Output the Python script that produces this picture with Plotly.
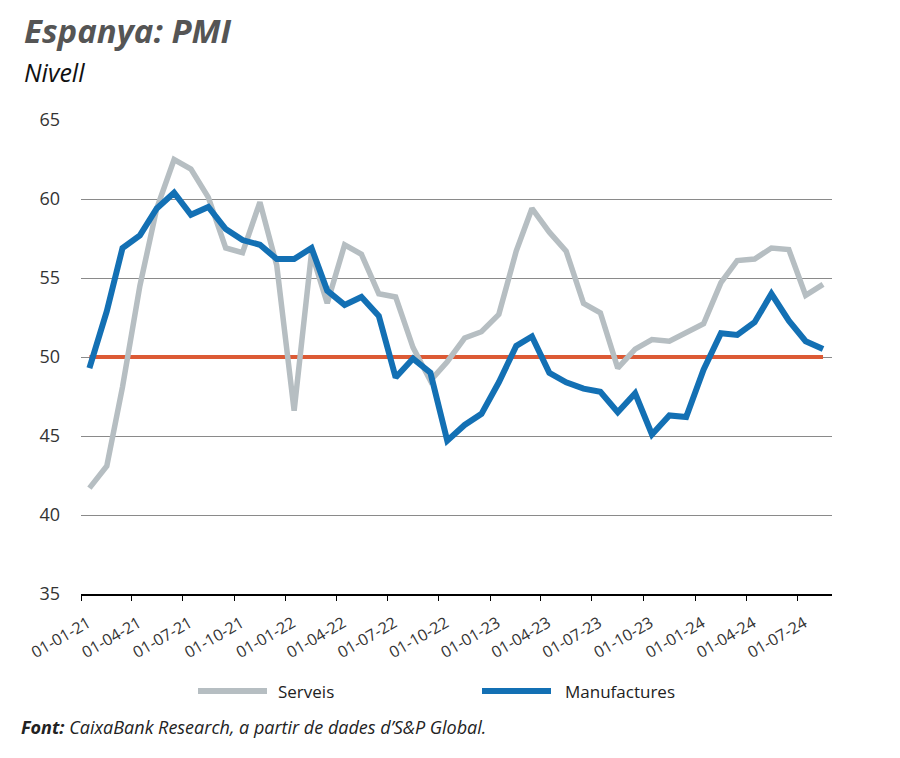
import pandas as pd
import plotly.graph_objects as go

# Monthly PMI, Jan 2021 - Aug 2024
start_month = "2021-01-01"
serveis = [41.7, 43.1, 48.1, 54.5, 59.4, 62.5, 61.9, 60.1, 56.9, 56.6, 59.8, 55.8,
           46.6, 56.6, 53.4, 57.1, 56.5, 54.0, 53.8, 50.6, 48.5, 49.7, 51.2, 51.6,
           52.7, 56.7, 59.4, 57.9, 56.7, 53.4, 52.8, 49.3, 50.5, 51.1, 51.0, 51.5,
           52.1, 54.7, 56.1, 56.2, 56.9, 56.8, 53.9, 54.6]
manufactures = [49.3, 52.9, 56.9, 57.7, 59.4, 60.4, 59.0, 59.5, 58.1, 57.4, 57.1, 56.2,
                56.2, 56.9, 54.2, 53.3, 53.8, 52.6, 48.7, 49.9, 49.0, 44.7, 45.7, 46.4,
                48.4, 50.7, 51.3, 49.0, 48.4, 48.0, 47.8, 46.5, 47.7, 45.1, 46.3, 46.2,
                49.2, 51.5, 51.4, 52.2, 54.0, 52.3, 51.0, 50.5]
threshold = 50
tick_dates = ["2021-01-01", "2021-04-01", "2021-07-01", "2021-10-01",
              "2022-01-01", "2022-04-01", "2022-07-01", "2022-10-01",
              "2023-01-01", "2023-04-01", "2023-07-01", "2023-10-01",
              "2024-01-01", "2024-04-01", "2024-07-01"]
tick_labels = ["01-01-21", "01-04-21", "01-07-21", "01-10-21",
               "01-01-22", "01-04-22", "01-07-22", "01-10-22",
               "01-01-23", "01-04-23", "01-07-23", "01-10-23",
               "01-01-24", "01-04-24", "01-07-24"]
series_names = ["Serveis", "Manufactures"]
series_colors = ["#b6bec2", "#1370b4"]

# place monthly points mid-month (category-centred look)
months = pd.date_range(start_month, periods=len(serveis), freq="MS") + pd.Timedelta(days=15)

FONT = "Open Sans"
W, H = 900, 758
OFF = 8  # page body margin
L, T = 81 - OFF, 120 - OFF
R, B = W - (832 - OFF), H - (594 - OFF)
PW, PH = W - L - R, H - T - B


def px(xp):
    return (xp - OFF - L) / PW


def py(yp):
    return (H - B - (yp - OFF)) / PH


fig = go.Figure()
fig.add_trace(go.Scatter(x=months, y=[threshold] * len(months), mode="lines",
                         line=dict(color="#dc5a35", width=4), showlegend=False,
                         hoverinfo="skip"))
fig.add_trace(go.Scatter(x=months, y=serveis, mode="lines", name=series_names[0],
                         line=dict(color=series_colors[0], width=5.5), showlegend=False))
fig.add_trace(go.Scatter(x=months, y=manufactures, mode="lines", name=series_names[1],
                         line=dict(color=series_colors[1], width=6), showlegend=False))

fig.update_layout(
    width=W, height=H,
    paper_bgcolor="white", plot_bgcolor="white",
    margin=dict(l=L, r=R, t=T, b=B, autoexpand=False),
    font=dict(family=FONT, color="#333333", size=16),
    showlegend=False,
    xaxis=dict(type="date", range=["2021-01-01", "2024-09-01"], automargin=False,
               tickmode="array", tickvals=tick_dates, ticktext=tick_labels,
               tickangle=-30, ticks="outside", ticklen=5, tickcolor="black",
               ticklabelshift=7, ticklabelstandoff=7,
               showline=True, linecolor="black", linewidth=1.5,
               showgrid=False, zeroline=False,
               tickfont=dict(size=16, color="#333333")),
    yaxis=dict(range=[35, 65], dtick=5, showgrid=True, gridcolor="#8a8a8a",
               gridwidth=1, zeroline=False, showline=False, ticks="", automargin=False,
               tickfont=dict(size=18, color="#333333"), ticklabelstandoff=20),
)

# legend (drawn manually to match long legend swatches)
legend_line_x = [(198, 267), (482, 551)]
legend_text_x = [276, 563]
legend_y = 691
for (x0, x1), tx, name, col in zip(legend_line_x, legend_text_x, series_names, series_colors):
    fig.add_shape(type="line", xref="paper", yref="paper",
                  x0=px(x0), x1=px(x1), y0=py(legend_y), y1=py(legend_y),
                  line=dict(color=col, width=6))
    fig.add_annotation(text=name, xref="paper", yref="paper", x=px(tx), y=py(legend_y),
                       xanchor="left", yanchor="middle", showarrow=False,
                       font=dict(size=17, color="#222222", family=FONT))

fig.add_annotation(text="<b><i>Espanya: PMI</i></b>", xref="paper", yref="paper",
                   x=px(22), y=py(30), xanchor="left", yanchor="middle",
                   showarrow=False, font=dict(size=33, color="#555555", family=FONT))
fig.add_annotation(text="<i>Nivell</i>", xref="paper", yref="paper",
                   x=px(22), y=py(72), xanchor="left", yanchor="middle",
                   showarrow=False, font=dict(size=25, color="#111111", family=FONT))
fig.add_annotation(text="<b><i>Font:</i></b><i> CaixaBank Research, a partir de dades d’S&P Global.</i>",
                   xref="paper", yref="paper",
                   x=px(19), y=py(727), xanchor="left", yanchor="middle",
                   showarrow=False, font=dict(size=18, color="#222222", family=FONT))

fig.write_html("out.html")
